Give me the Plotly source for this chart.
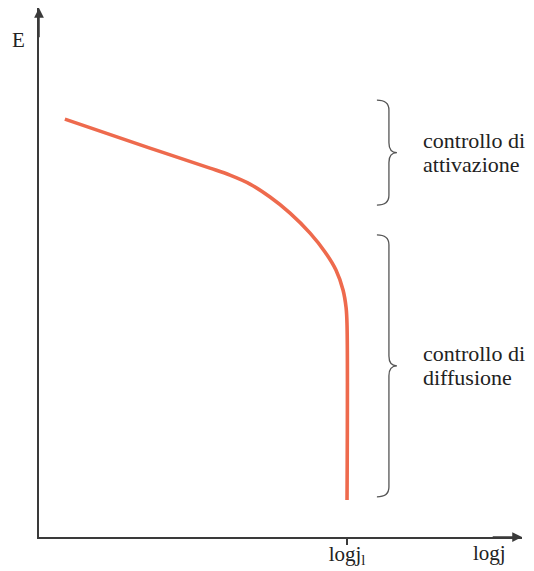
import plotly.graph_objects as go

# Polarization curve E vs log j (arbitrary units, logj1 = 10)
logj = [0.84, 3.60, 5.55, 6.20, 6.85, 7.50, 8.15, 8.80, 9.29, 9.64, 9.87, 9.97, 10.0, 10.0]
E = [13.57, 12.63, 11.98, 11.75, 11.46, 11.04, 10.52, 9.87, 9.25, 8.67, 8.02, 7.44, 6.88, 1.20]

logj_lim = 10.0
tick_labels = ["logj<sub>l</sub>"]

# regions marked with braces: (top E, bottom E, label lines)
regions = [
    (14.19, 10.78, ["controllo di", "attivazione"]),
    (9.81, 1.30, ["controllo di", "diffusione"]),
]

x_max = 15.68
y_max = 17.18
serif = "Liberation Serif"
axis_col = "#3a3a3a"
txt_col = "#222222"

fig = go.Figure()
fig.add_trace(go.Scatter(
    x=logj, y=E, mode="lines",
    line=dict(color="#EE6A4D", width=3.6, shape="spline", smoothing=1.0),
    hoverinfo="skip", showlegend=False,
))


def brace_path(y_top, y_bot, xl=10.97, xs=11.36, xt=11.62, r=0.32):
    ym = (y_top + y_bot) / 2
    return (f"M {xl},{y_top} Q {xs},{y_top} {xs},{y_top - r} "
            f"L {xs},{ym + r} Q {xs},{ym} {xt},{ym} "
            f"Q {xs},{ym} {xs},{ym - r} "
            f"L {xs},{y_bot + r} Q {xs},{y_bot} {xl},{y_bot}")


shapes = []
annotations = []
for top, bot, lines in regions:
    shapes.append(dict(type="path", path=brace_path(top, bot), xref="x", yref="y",
                       line=dict(color="#555555", width=1.3)))
    mid = (top + bot) / 2
    for i, t in enumerate(lines):
        annotations.append(dict(x=12.4, y=mid + 0.39 - i * 0.78, xref="x", yref="y",
                                text=t, showarrow=False, xanchor="left", yanchor="middle",
                                font=dict(family=serif, size=22, color=txt_col)))

# axis arrowheads
annotations.append(dict(x=x_max, y=0, ax=x_max - 1, ay=0, xref="x", yref="y",
                        axref="x", ayref="y", text="", showarrow=True,
                        arrowhead=2, arrowsize=1.3, arrowwidth=1.5, arrowcolor=axis_col))
annotations.append(dict(x=0, y=y_max, ax=0, ay=y_max - 1, xref="x", yref="y",
                        axref="x", ayref="y", text="", showarrow=True,
                        arrowhead=2, arrowsize=1.3, arrowwidth=1.5, arrowcolor=axis_col))
# axis names (placed relative to the plot area edges)
annotations.append(dict(x=0, y=16.14, xref="paper", yref="y", xshift=-21, text="E",
                        xanchor="center", yanchor="middle",
                        showarrow=False, font=dict(family=serif, size=21, color=txt_col)))
annotations.append(dict(x=14.64, y=0, xref="x", yref="paper", yshift=-16, text="logj",
                        xanchor="center", yanchor="middle",
                        showarrow=False, font=dict(family=serif, size=21, color=txt_col)))

# the page body adds an 8px offset, so the figure is 8px smaller and margins shifted
fig.update_layout(
    width=526, height=563,
    margin=dict(l=31, r=12, t=0, b=34, autoexpand=False),
    paper_bgcolor="white", plot_bgcolor="white",
    shapes=shapes, annotations=annotations,
    xaxis=dict(range=[0, x_max], showgrid=False, zeroline=False, showline=True,
               automargin=False,
               linecolor=axis_col, linewidth=1.5, tickvals=[logj_lim], ticktext=tick_labels,
               ticks="outside", ticklen=6, tickcolor=axis_col, tickwidth=1.5,
               ticklabelstandoff=-9,
               tickfont=dict(family=serif, size=21, color=txt_col)),
    yaxis=dict(range=[0, y_max], showgrid=False, zeroline=False, showline=True,
               automargin=False,
               linecolor=axis_col, linewidth=1.5, showticklabels=False, ticks=""),
)

fig.write_html("out.html")
